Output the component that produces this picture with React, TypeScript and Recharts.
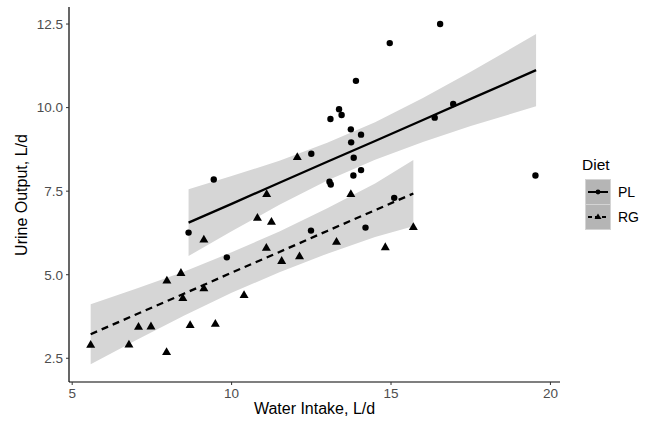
import { Area, ComposedChart, Line, Scatter, XAxis, YAxis } from "recharts";

// observed points, PL diet (circles)
const plWater = [8.65, 9.44, 9.85, 12.49, 12.5, 13.07, 13.11, 13.1, 13.37, 13.45, 13.74, 13.75, 13.83, 13.82, 13.9, 14.06, 14.06, 14.2, 14.96, 15.1, 16.37, 16.54, 16.95, 19.53];
const plUrine = [6.26, 7.85, 5.52, 6.32, 8.62, 7.78, 7.7, 9.66, 9.95, 9.78, 9.35, 8.96, 8.5, 7.97, 10.8, 9.19, 8.13, 6.41, 11.93, 7.3, 9.7, 12.5, 10.11, 7.97];

// observed points, RG diet (triangles)
const rgWater = [5.58, 6.78, 7.96, 7.08, 7.47, 8.7, 9.49, 7.97, 8.41, 8.47, 9.13, 9.13, 10.39, 10.81, 11.1, 11.25, 11.09, 11.57, 12.13, 12.06, 13.29, 13.74, 14.82, 15.7];
const rgUrine = [2.91, 2.92, 2.69, 3.45, 3.46, 3.5, 3.54, 4.83, 5.06, 4.31, 4.6, 6.06, 4.4, 6.71, 7.42, 6.59, 5.81, 5.42, 5.56, 8.53, 5.99, 7.42, 5.83, 6.43];

// smooth fit + confidence band
const plFitX = [8.65, 10, 11.5, 13, 14.5, 16, 17.5, 19.55];
const plFit = [6.56, 7.12, 7.75, 8.38, 9.0, 9.63, 10.26, 11.12];
const plLow = [5.56, 6.3, 7.09, 7.82, 8.44, 8.97, 9.45, 10.04];
const plHigh = [7.56, 7.95, 8.41, 8.95, 9.56, 10.29, 11.07, 12.2];

const rgFitX = [5.58, 7, 8.5, 10, 11.5, 13, 14.5, 15.7];
const rgFit = [3.22, 3.81, 4.43, 5.06, 5.68, 6.31, 6.93, 7.43];
const rgLow = [2.32, 3.04, 3.77, 4.46, 5.07, 5.63, 6.13, 6.45];
const rgHigh = [4.12, 4.58, 5.09, 5.67, 6.29, 6.99, 7.73, 8.43];

const xTicks = [5, 10, 15, 20];
const yTicks = [2.5, 5, 7.5, 10, 12.5];

const plPoints = plWater.map((x, i) => ({ x, y: plUrine[i] }));
const rgPoints = rgWater.map((x, i) => ({ x, y: rgUrine[i] }));
const plBand = plFitX.map((x, i) => ({ x, fit: plFit[i], band: [plLow[i], plHigh[i]] }));
const rgBand = rgFitX.map((x, i) => ({ x, fit: rgFit[i], band: [rgLow[i], rgHigh[i]] }));

const font = "'Liberation Sans', Arial, sans-serif";
const ribbon = "#d6d6d6";

const Dot = (p: any) => <circle cx={p.cx} cy={p.cy} r={3.2} fill="#000" />;
const Tri = (p: any) => (
  <polygon
    points={`${p.cx},${p.cy - 4.6} ${p.cx - 4.5},${p.cy + 3.2} ${p.cx + 4.5},${p.cy + 3.2}`}
    fill="#000"
  />
);

function DietLegend() {
  return (
    <div style={{ position: "absolute", left: 582, top: 156, fontFamily: font }}>
      <div style={{ fontSize: 15.5, color: "#000", marginBottom: 5 }}>Diet</div>
      <svg width={70} height={52} style={{ display: "block" }}>
        <rect x={3.5} y={0.5} width={25} height={25} fill="#b5b5b5" stroke="#d4d4d4" />
        <rect x={3.5} y={25.5} width={25} height={25} fill="#b5b5b5" stroke="#d4d4d4" />
        <line x1={6} x2={26} y1={13} y2={13} stroke="#000" strokeWidth={2} />
        <circle cx={16} cy={13} r={2.4} fill="#000" />
        <line x1={6} x2={26} y1={38} y2={38} stroke="#000" strokeWidth={2} strokeDasharray="4 3" />
        <polygon points="16,34.5 12.5,40 19.5,40" fill="#000" />
        <text x={36} y={18} fontSize={14} fill="#000" fontFamily={font}>PL</text>
        <text x={36} y={43} fontSize={14} fill="#000" fontFamily={font}>RG</text>
      </svg>
    </div>
  );
}

export default function App() {
  return (
    <div style={{ position: "absolute", left: 0, top: 0, width: 649, height: 426, background: "#fff" }}>
      <ComposedChart width={649} height={426} margin={{ top: 7, right: 89, bottom: 14, left: 30 }}>
        <XAxis
          type="number"
          dataKey="x"
          domain={[4.9, 20.3]}
          allowDataOverflow
          ticks={xTicks}
          height={30}
          tickSize={3}
          tickMargin={3}
          axisLine={{ stroke: "#000", strokeWidth: 1.2 }}
          tickLine={{ stroke: "#333" }}
          tick={{ fill: "#4d4d4d", fontSize: 13.5, fontFamily: font }}
        />
        <YAxis
          type="number"
          domain={[1.79, 13.01]}
          allowDataOverflow
          ticks={yTicks}
          width={39}
          tickSize={3}
          tickMargin={3}
          tickFormatter={(v) => Number(v).toFixed(1)}
          axisLine={{ stroke: "#000", strokeWidth: 1.2 }}
          tickLine={{ stroke: "#333" }}
          tick={{ fill: "#4d4d4d", fontSize: 13.5, fontFamily: font }}
        />
        <Area data={plBand} dataKey="band" type="linear" fill={ribbon} fillOpacity={1} stroke="none" isAnimationActive={false} />
        <Area data={rgBand} dataKey="band" type="linear" fill={ribbon} fillOpacity={1} stroke="none" isAnimationActive={false} />
        <Line data={plBand} dataKey="fit" type="linear" stroke="#000" strokeWidth={2.3} dot={false} isAnimationActive={false} />
        <Line data={rgBand} dataKey="fit" type="linear" stroke="#000" strokeWidth={2.3} strokeDasharray="7 5" dot={false} isAnimationActive={false} />
        <Scatter data={plPoints} dataKey="y" shape={Dot} isAnimationActive={false} />
        <Scatter data={rgPoints} dataKey="y" shape={Tri} isAnimationActive={false} />
      </ComposedChart>
      <div
        style={{
          position: "absolute",
          left: 69,
          top: 400,
          width: 491,
          textAlign: "center",
          fontFamily: font,
          fontSize: 16,
          color: "#000",
        }}
      >
        Water Intake, L/d
      </div>
      <div
        style={{
          position: "absolute",
          left: 22,
          top: 195,
          transform: "translate(-50%, -50%) rotate(-90deg)",
          whiteSpace: "nowrap",
          fontFamily: font,
          fontSize: 16,
          color: "#000",
        }}
      >
        Urine Output, L/d
      </div>
      <DietLegend />
    </div>
  );
}
